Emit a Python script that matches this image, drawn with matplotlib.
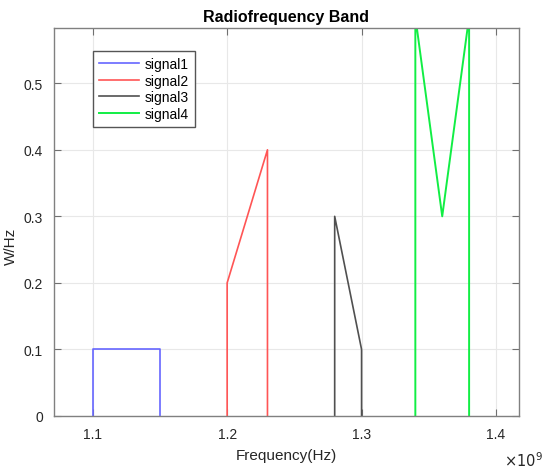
import matplotlib
matplotlib.use('Agg')
import matplotlib.pyplot as plt

plt.rcParams['font.family'] = ['Liberation Sans', 'DejaVu Sans']

# frequency in Hz, power density in W/Hz
f1 = [1.10e9, 1.10e9, 1.15e9, 1.15e9]
p1 = [0, 0.1, 0.1, 0]
f2 = [1.20e9, 1.20e9, 1.23e9, 1.23e9]
p2 = [0, 0.2, 0.4, 0]
f3 = [1.28e9, 1.28e9, 1.30e9, 1.30e9]
p3 = [0, 0.3, 0.1, 0]
f4 = [1.34e9, 1.34e9, 1.36e9, 1.38e9, 1.38e9]
p4 = [0, 0.6, 0.3, 0.6, 0]

xticks = [1.1e9, 1.2e9, 1.3e9, 1.4e9]
yticks = [0, 0.1, 0.2, 0.3, 0.4, 0.5]

fig = plt.figure(figsize=(5.5, 4.77), dpi=100)
ax = fig.add_axes([0.0982, 0.1258, 0.8454, 0.8134])

ax.plot(f1, p1, color='#6666ff', lw=1.2, label='signal1')
ax.plot(f2, p2, color='#ff5555', lw=1.2, label='signal2')
ax.plot(f3, p3, color='#505050', lw=1.2, label='signal3')
ax.plot(f4, p4, color='#11ee44', lw=1.4, label='signal4')

ax.set_xlim(1.0712e9, 1.4171e9)
ax.set_ylim(0, 0.583)
ax.set_xticks(xticks)
ax.set_xticklabels(['1.1', '1.2', '1.3', '1.4'])
ax.set_yticks(yticks)
ax.set_yticklabels(['0', '0.1', '0.2', '0.3', '0.4', '0.5'])

ax.grid(True, color='#e8e8e8', lw=0.8)
ax.set_axisbelow(True)
for s in ax.spines.values():
    s.set_color('#808080')
    s.set_linewidth(1.0)
ax.tick_params(direction='in', length=5, width=0.8, color='#707070',
               top=True, right=True, labelsize=10, labelcolor='#262626', pad=8)

ax.set_title('Radiofrequency Band', fontsize=11.5, fontweight='bold', pad=5)
ax.set_xlabel('Frequency(Hz)', fontsize=11, color='#262626', labelpad=5)
ax.set_ylabel('W/Hz', fontsize=11, color='#262626')
ax.yaxis.set_label_coords(-0.077, 0.44)
fig.text(0.952, 0.022, r'$\times10^{9}$', fontsize=10.5, color='#262626', ha='center')

leg = ax.legend(loc='upper left', bbox_to_anchor=(0.083, 0.942), fontsize=10,
                fancybox=False, framealpha=1, edgecolor='#555555',
                handlelength=2.9, handletextpad=0.4, labelspacing=0.2,
                borderpad=0.45, borderaxespad=0)
leg.get_frame().set_linewidth(1.0)

fig.savefig('out.png', dpi=100)
